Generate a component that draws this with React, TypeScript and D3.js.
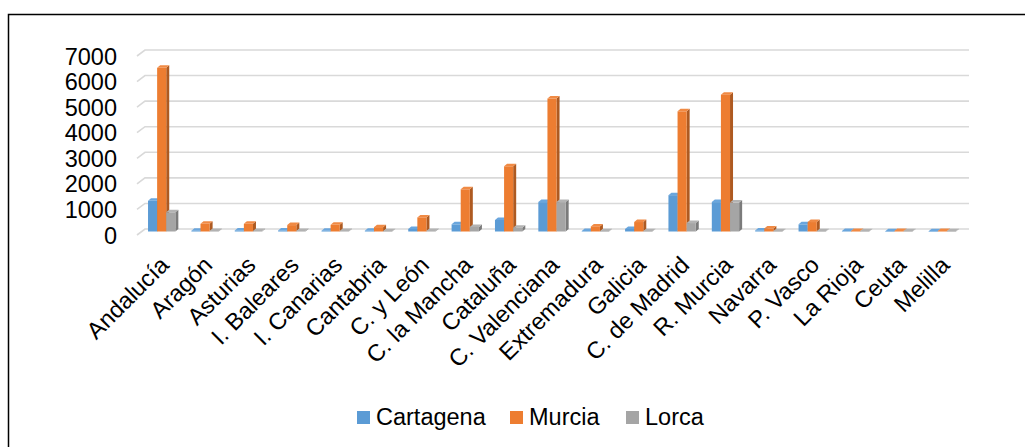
import React from "react";
import * as d3 from "d3";

const categories = [
  "Andalucía", "Aragón", "Asturias", "I. Baleares", "I. Canarias", "Cantabria",
  "C. y León", "C. la Mancha", "Cataluña", "C. Valenciana", "Extremadura", "Galicia",
  "C. de Madrid", "R. Murcia", "Navarra", "P. Vasco", "La Rioja", "Ceuta", "Melilla",
];
const cartagena = [1200, 30, 40, 40, 30, 30, 100, 280, 450, 1150, 20, 100, 1420, 1150, 40, 280, 15, 10, 5];
const murcia = [6400, 300, 300, 250, 260, 170, 550, 1650, 2550, 5200, 200, 370, 4700, 5350, 120, 370, 20, 15, 15];
const lorca = [750, 20, 20, 20, 20, 10, 20, 180, 150, 1150, 10, 10, 330, 1130, 10, 10, 5, 5, 5];
const seriesNames = ["Cartagena", "Murcia", "Lorca"];
const yTicks = [0, 1000, 2000, 3000, 4000, 5000, 6000, 7000];

const front = ["#5B9BD5", "#ED7D31", "#A5A5A5"];
const top = ["#6AA6DD", "#F08A44", "#B3B3B3"];
const side = ["#41719C", "#AE5A21", "#7B7B7B"];

const W = 1025, H = 447;
const FONT = "Arial, 'Liberation Sans', sans-serif";
const FS = 23.5;

export default function App() {
  const series = [cartagena, murcia, lorca];
  const x0 = d3.scaleBand<string>().domain(categories).range([140, 964]).paddingInner(0.37).paddingOuter(0.185);
  const x1 = d3.scaleBand<number>().domain([0, 1, 2]).range([0, x0.bandwidth()]).padding(0);
  const y = d3.scaleLinear().domain([0, 7000]).range([229, 50]);
  const bw = x1.bandwidth();
  const dx = 3, dy = -2.5, fOff = 2.5;

  return (
    <svg width={W} height={H} style={{ position: "absolute", left: 0, top: 0 }} fontFamily={FONT}>
      <rect x={8.5} y={14.5} width={1030} height={450} fill="#fff" stroke="#000" strokeWidth={1.5} />
      {yTicks.map((t) => (
        <g key={t}>
          <polyline
            points={`137,${y(t) + 6} 145,${y(t)} 969,${y(t)}`}
            fill="none" stroke="#d9d9d9" strokeWidth={1.6} />
          <text x={117} y={y(t) + 14.5} textAnchor="end" fontSize={FS} fill="#000">{t}</text>
        </g>
      ))}
      {categories.map((c, i) => (
        <g key={c}>
          {series.map((s, k) => {
            const bx = (x0(c) as number) + (x1(k) as number);
            const base = y(0) + fOff;
            const ty = y(s[i]) + fOff;
            const h = Math.max(base - ty, 0.5);
            return (
              <g key={k}>
                <polygon points={`${bx + bw},${ty} ${bx + bw + dx},${ty + dy} ${bx + bw + dx},${base + dy} ${bx + bw},${base}`} fill={side[k]} />
                <polygon points={`${bx},${ty} ${bx + dx},${ty + dy} ${bx + bw + dx},${ty + dy} ${bx + bw},${ty}`} fill={top[k]} />
                <rect x={bx} y={ty} width={bw} height={h} fill={front[k]} />
              </g>
            );
          })}
          <text
            transform={`translate(${(x0(c) as number) + x0.bandwidth() / 2 + 8.6},${266.5}) rotate(-45)`}
            textAnchor="end" fontSize={FS} fill="#000">{c}</text>
        </g>
      ))}
      {seriesNames.map((n, k) => {
        const lx = [357, 510, 626][k];
        return (
          <g key={n}>
            <rect x={lx} y={411} width={13} height={13} fill={front[k]} />
            <text x={lx + 19} y={425} fontSize={FS} fill="#000">{n}</text>
          </g>
        );
      })}
    </svg>
  );
}
